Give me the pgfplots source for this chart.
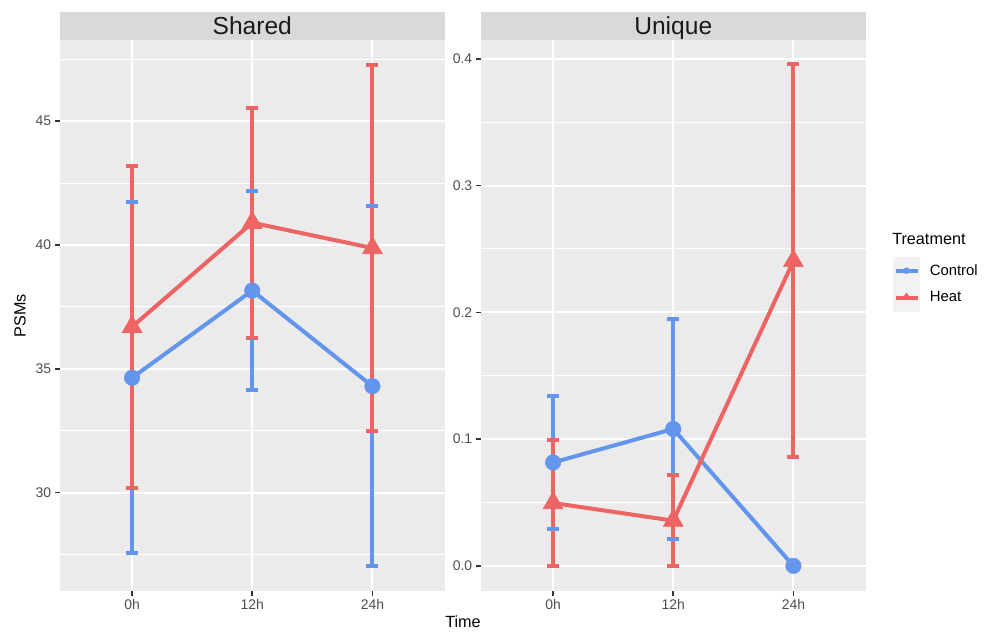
\documentclass[border=0pt]{standalone}
\usepackage{pgfplots}
\pgfplotsset{compat=1.18}
\usepackage{pgfplotstable}
\usepackage{fontspec}
\setmainfont{Liberation Sans}
\definecolor{ctrl}{HTML}{6495ED}
\definecolor{heat}{HTML}{EE6363}
\definecolor{panel}{HTML}{EBEBEB}
\definecolor{strip}{HTML}{D9D9D9}
\definecolor{keybg}{HTML}{F2F2F2}
\definecolor{tickc}{HTML}{333333}
\definecolor{labc}{HTML}{4D4D4D}
\definecolor{titc}{HTML}{1A1A1A}

% x: 0=0h, 1=12h, 2=24h ; y = mean ; e = half error bar
\pgfplotstableread{
x y e
0 34.64 7.08
1 38.16 4.03
2 34.30 7.26
}\sharedctrl
\pgfplotstableread{
x y e
0 36.70 6.50
1 40.90 4.65
2 39.88 7.40
}\sharedheat
\pgfplotstableread{
x y e
0 0.0816 0.0524
1 0.108 0.087
2 0.0 0.0
}\uniquectrl
\pgfplotstableread{
x y e
0 0.0496 0.0496
1 0.0357 0.0357
2 0.2405 0.155
}\uniqueheat

\pgfplotsset{
  facet/.style={
    scale only axis,
    width=288.375bp, height=413.25bp,
    anchor=south west,
    xmin=-0.6, xmax=2.6,
    xtick={0,1,2}, xticklabels={0h,12h,24h},
    axis line style={draw=none},
    tick pos=left, tick align=outside,
    major tick length=3.75bp, minor tick length=0pt,
    tick style={draw=tickc, line width=1.2bp},
    axis background/.style={fill=panel},
    grid=both,
    major grid style={white, line width=1.5bp},
    minor grid style={white, line width=0.75bp},
    ticklabel style={font=\fontsize{10.5}{12}\selectfont, text=labc},
    yticklabel style={inner sep=0pt, xshift=-2.7bp},
    xticklabel style={inner sep=0pt, yshift=-2.5bp},
    clip=false,
  },
  lineplot/.style={no marks, line width=3bp, #1},
  markplot/.style={only marks, #1},
  errplot/.style={draw=none, mark=none,
    /pgfplots/error bars/y dir=both, /pgfplots/error bars/y explicit,
    /pgfplots/error bars/error mark=none,
    /pgfplots/error bars/error bar style={draw=#1, line width=3bp, solid}},
  capplot/.style={only marks, mark=-, mark size=4.5bp,
    mark options={draw=#1, line width=3bp, solid}},
}

% one error bar series: vertical bars, then caps at both ends
\newcommand{\errseries}[2]{%
  \addplot[forget plot, errplot=#1] table[x=x,y=y,y error=e] {#2};
  \addplot[forget plot, capplot=#1] table[x=x,y expr=\thisrow{y}+\thisrow{e}] {#2};
  \addplot[forget plot, capplot=#1] table[x=x,y expr=\thisrow{y}-\thisrow{e}] {#2};}

\newcommand{\striptitle}[1]{%
  \node[fill=strip, minimum width=288.375bp, minimum height=21bp, anchor=south,
        inner sep=0pt, text height=13.25bp, text depth=0pt, text=titc,
        font=\fontsize{18.5}{20}\selectfont] at (rel axis cs:0.5,1) {#1};}

\begin{document}
\begin{tikzpicture}
\path[use as bounding box] (0,0) rectangle (741.75bp,474bp);

% ---------- Shared ----------
\begin{axis}[facet, at={(45bp,30.75bp)},
  ymin=26.03, ymax=48.28,
  ytick={30,35,40,45}, yticklabels={30,35,40,45},
  minor ytick={27.5,32.5,37.5,42.5,47.5}]
\addplot[lineplot=ctrl] table[x=x,y=y] {\sharedctrl};
\addplot[lineplot=heat] table[x=x,y=y] {\sharedheat};
\addplot[markplot=ctrl, mark=*, mark size=5.8bp, mark options={draw=none, fill=ctrl}] table[x=x,y=y] {\sharedctrl};
\addplot[markplot=heat, mark=triangle*, mark size=8.6bp, mark options={draw=none, fill=heat}] table[x=x,y=y] {\sharedheat};
\errseries{ctrl}{\sharedctrl}
\errseries{heat}{\sharedheat}
\striptitle{Shared}
\end{axis}

% ---------- Unique ----------
\begin{axis}[facet, at={(360.75bp,30.75bp)},
  ymin=-0.0198, ymax=0.4148,
  ytick={0,0.1,0.2,0.3,0.4}, yticklabels={0.0,0.1,0.2,0.3,0.4},
  minor ytick={0.05,0.15,0.25,0.35},
  legend style={at={(1.0715,0.6062)}, anchor=north west, draw=none, fill=none,
    inner sep=0pt, row sep=0pt, column sep=7.5bp,
    nodes={inner sep=0pt, anchor=west, font=\fontsize{11.2}{13}\selectfont, text=black}},
  legend cell align=left]
\addplot[lineplot=ctrl, forget plot] table[x=x,y=y] {\uniquectrl};
\addplot[lineplot=heat, forget plot] table[x=x,y=y] {\uniqueheat};
\addplot[markplot=ctrl, mark=*, mark size=5.8bp, mark options={draw=none, fill=ctrl}, forget plot] table[x=x,y=y] {\uniquectrl};
\addplot[markplot=heat, mark=triangle*, mark size=8.6bp, mark options={draw=none, fill=heat}, forget plot] table[x=x,y=y] {\uniqueheat};
\addplot[forget plot, errplot=ctrl] table[x=x,y=y,y error=e] {\uniquectrl};
\addplot[forget plot, capplot=ctrl] table[x=x,y expr=\thisrow{y}+\thisrow{e}] {\uniquectrl};
\addplot[forget plot, capplot=ctrl] table[x=x,y expr=\thisrow{y}-\thisrow{e}] {\uniquectrl};
\errseries{heat}{\uniqueheat}
\addlegendimage{legend image code/.code={
  \fill[keybg] (0bp,-9.9bp) rectangle (19.5bp,9.9bp);
  \draw[ctrl, line width=3bp] (1.5bp,0bp) -- (18bp,0bp);
  \fill[ctrl] (9.75bp,0bp) circle (2.2bp);}}
\addlegendentry{Control}
\addlegendimage{legend image code/.code={
  \fill[keybg] (0bp,-9.9bp) rectangle (19.5bp,9.9bp);
  \draw[heat, line width=3bp] (1.5bp,0bp) -- (18bp,0bp);
  \fill[heat] (7.3bp,0bp) -- (12.2bp,0bp) -- (9.75bp,3.4bp) -- cycle;}}
\addlegendentry{Heat}
\striptitle{Unique}
\end{axis}

% ---------- titles ----------
\node[rotate=90, font=\fontsize{12.2}{14}\selectfont, inner sep=0pt] at (15bp,237bp) {PSMs};
\node[font=\fontsize{12.2}{14}\selectfont, inner sep=0pt] at (347.25bp,7.5bp) {Time};
\node[font=\fontsize{12.2}{14}\selectfont, inner sep=0pt, anchor=base west] at (669bp,290.25bp) {Treatment};
\end{tikzpicture}
\end{document}
